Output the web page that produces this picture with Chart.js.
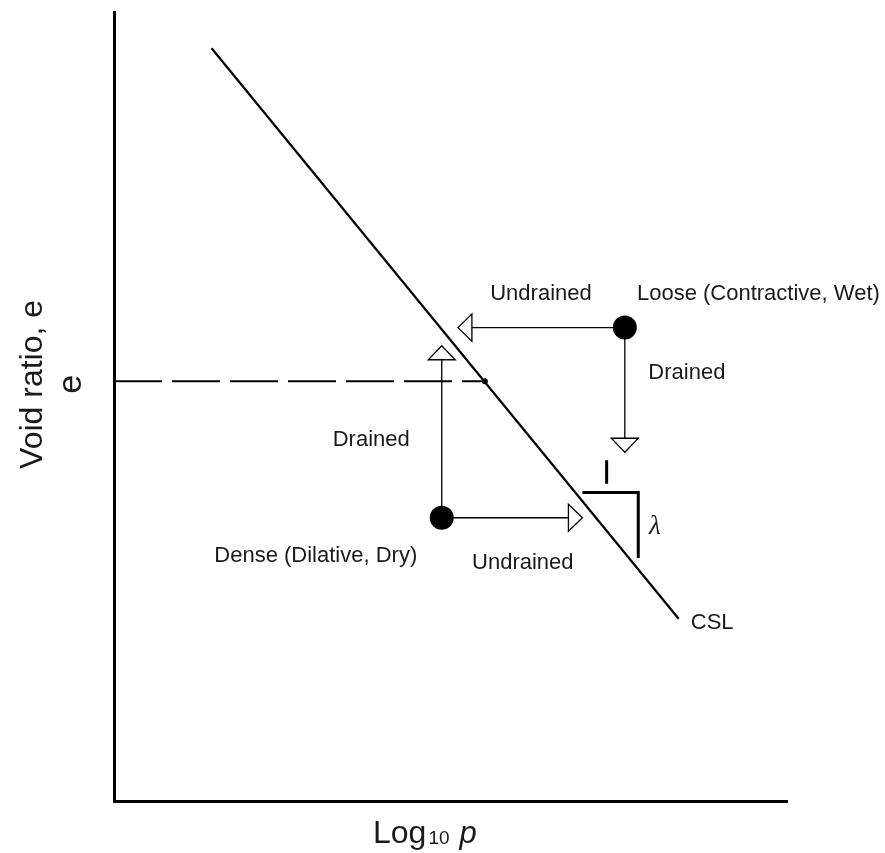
<!DOCTYPE html>
<html>
<head>
<meta charset="utf-8">
<script src="https://cdn.jsdelivr.net/npm/chart.js@4.4.1/dist/chart.umd.min.js"></script>
<style>
  html, body { margin: 0; padding: 0; background: #fff; }
  #wrap { width: 885px; height: 853px; position: relative; }
</style>
</head>
<body>
<div id="wrap"><canvas id="cslChart"></canvas></div>
<script>
// axis ranges (log10 p, void ratio e) - schematic, no ticks
const xRange = [0, 10];
const yRange = [0, 10];

// critical state line
const cslX = [1.45, 8.39];
const cslY = [9.54, 2.31];

// critical void ratio level and its point on the CSL
const eCrit = 5.32;
const pCrit = 5.51;

// the two initial states
const looseState = { x: 7.59, y: 6.00 };
const denseState = { x: 4.87, y: 3.59 };

// stress paths end points
const looseUndrainedTo = { x: 5.11, y: 6.00 };
const looseDrainedTo = { x: 7.59, y: 4.42 };
const denseUndrainedTo = { x: 6.96, y: 3.59 };
const denseDrainedTo = { x: 4.87, y: 5.77 };

// slope triangle for lambda
const slopeX = [6.96, 7.79, 7.79];
const slopeY = [3.91, 3.91, 3.08];
const unitTickX = [7.32, 7.32];
const unitTickY = [4.32, 4.02];

// text notes
const noteText = ['Undrained', 'Loose (Contractive, Wet)', 'Drained', 'Drained',
                  'Dense (Dilative, Dry)', 'Undrained', 'CSL'];
const noteX = [5.59, 7.77, 7.94, 3.25, 1.49, 5.32, 8.57];
const noteY = [6.43, 6.43, 5.43, 4.57, 3.10, 3.02, 2.26];

const ink = '#000';
const textInk = '#1a1a1a';

function pts(xs, ys) {
    return xs.map((x, i) => ({ x: x, y: ys[i] }));
}

function lineSet(data, width, extra) {
    return Object.assign({
        data: data,
        showLine: true,
        borderColor: ink,
        borderWidth: width,
        pointRadius: 0,
        fill: false
    }, extra || {});
}

// arrow datasets carry isArrow so the plugin draws an open head at the end
const datasets = [
    lineSet(pts(cslX, cslY), 2.2),
    lineSet([{ x: xRange[0], y: eCrit }, { x: pCrit, y: eCrit }], 2, { borderDash: [48, 10] }),
    lineSet([looseState, looseUndrainedTo], 1.3, { isArrow: true }),
    lineSet([looseState, looseDrainedTo], 1.3, { isArrow: true }),
    lineSet([denseState, denseUndrainedTo], 1.3, { isArrow: true }),
    lineSet([denseState, denseDrainedTo], 1.3, { isArrow: true }),
    lineSet(pts(slopeX, slopeY), 3),
    lineSet(pts(unitTickX, unitTickY), 3),
    {
        data: [{ x: pCrit, y: eCrit }],
        pointRadius: 3, backgroundColor: ink, borderWidth: 0
    },
    {
        data: [looseState, denseState],
        pointRadius: 12, backgroundColor: ink, borderColor: ink, borderWidth: 0
    }
];

const decorPlugin = {
    id: 'decor',
    afterDatasetsDraw(chart) {
        const ctx = chart.ctx;
        const xs = chart.scales.x, ys = chart.scales.y;
        const area = chart.chartArea;

        // open triangle arrow heads
        chart.data.datasets.forEach(ds => {
            if (!ds.isArrow) return;
            const a = ds.data[0], b = ds.data[ds.data.length - 1];
            const ax = xs.getPixelForValue(a.x), ay = ys.getPixelForValue(a.y);
            const bx = xs.getPixelForValue(b.x), by = ys.getPixelForValue(b.y);
            const len = Math.hypot(bx - ax, by - ay);
            const ux = (bx - ax) / len, uy = (by - ay) / len;
            const headL = 14, headW = 13.5;
            const cx = bx - ux * headL, cy = by - uy * headL;
            ctx.save();
            ctx.beginPath();
            ctx.moveTo(bx, by);
            ctx.lineTo(cx - uy * headW, cy + ux * headW);
            ctx.lineTo(cx + uy * headW, cy - ux * headW);
            ctx.closePath();
            ctx.fillStyle = '#fff';
            ctx.fill();
            ctx.lineWidth = 1.3;
            ctx.strokeStyle = ink;
            ctx.stroke();
            ctx.restore();
        });

        ctx.save();
        ctx.fillStyle = textInk;
        ctx.textBaseline = 'middle';
        ctx.textAlign = 'left';
        ctx.font = '22px "Liberation Sans", Arial, sans-serif';
        noteText.forEach((t, i) => {
            ctx.fillText(t, xs.getPixelForValue(noteX[i]), ys.getPixelForValue(noteY[i]));
        });

        // lambda
        ctx.font = 'italic 27px "Liberation Serif", "Times New Roman", serif';
        ctx.fillText('\u03bb', xs.getPixelForValue(7.95), ys.getPixelForValue(3.48));

        // y axis title and e marker, rotated
        ctx.textAlign = 'center';
        ctx.textBaseline = 'alphabetic';
        ctx.font = '32px "Liberation Sans", Arial, sans-serif';
        ctx.save();
        ctx.translate(area.left - 72, ys.getPixelForValue(5.28));
        ctx.rotate(-Math.PI / 2);
        ctx.fillText('Void ratio, e', 0, 0);
        ctx.restore();
        ctx.font = '34px "Liberation Sans", Arial, sans-serif';
        ctx.save();
        ctx.translate(area.left - 33, ys.getPixelForValue(eCrit) + 3);
        ctx.rotate(-Math.PI / 2);
        ctx.fillText('e', 0, 0);
        ctx.restore();

        // x axis title: Log10 p
        ctx.textAlign = 'left';
        let x0 = 373, base = area.bottom + 42;
        ctx.font = '32px "Liberation Sans", Arial, sans-serif';
        ctx.fillText('Log', x0, base);
        x0 += ctx.measureText('Log').width + 2;
        ctx.font = '19px "Liberation Sans", Arial, sans-serif';
        ctx.fillText('10', x0, base + 1);
        x0 += ctx.measureText('10').width + 10;
        ctx.font = 'italic 31px "Liberation Sans", Arial, sans-serif';
        ctx.fillText('p', x0, base);
        ctx.restore();
    }
};

new Chart(document.getElementById('cslChart'), {
    type: 'scatter',
    data: { datasets: datasets },
    options: {
        responsive: true,
        maintainAspectRatio: false,
        animation: false,
        layout: { padding: { left: 114, right: 98, top: 12, bottom: 52 } },
        plugins: { legend: { display: false }, tooltip: { enabled: false } },
        scales: {
            x: {
                type: 'linear', min: xRange[0], max: xRange[1],
                ticks: { display: false },
                grid: { display: false, drawTicks: false },
                border: { display: true, color: ink, width: 3 }
            },
            y: {
                type: 'linear', min: yRange[0], max: yRange[1],
                ticks: { display: false },
                grid: { display: false, drawTicks: false },
                border: { display: true, color: ink, width: 3 }
            }
        }
    },
    plugins: [decorPlugin]
});
</script>
</body>
</html>
